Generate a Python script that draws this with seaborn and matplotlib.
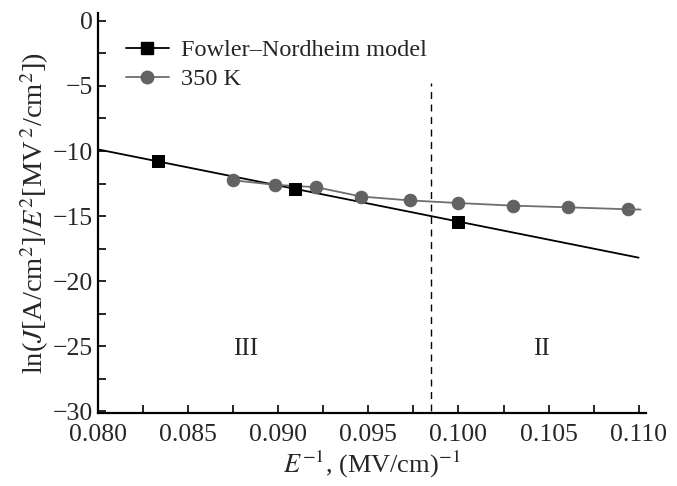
import matplotlib
matplotlib.use("Agg")
import matplotlib.pyplot as plt
from matplotlib.lines import Line2D
from matplotlib.ticker import MultipleLocator
import seaborn as sns

sns.set_style("ticks")
plt.rcParams['font.family'] = ['Liberation Serif', 'DejaVu Serif']
plt.rcParams['mathtext.fontset'] = 'stix'

# Fowler-Nordheim model: fit line and the three model points
fn_line_x = [0.080, 0.110]
fn_line_y = [-9.88, -18.2]
fn_x = [0.08333, 0.09091, 0.1000]
fn_y = [-10.8, -12.93, -15.43]

# measured data, 350 K
t350_x = [0.0875, 0.0898, 0.0921, 0.0946, 0.0973, 0.1000, 0.1030, 0.1061, 0.1094]
t350_y = [-12.25, -12.6, -12.78, -13.5, -13.8, -14.0, -14.2, -14.33, -14.48]
t350_tail_x = [0.1094, 0.1101]
t350_tail_y = [-14.48, -14.5]

boundary_x = 0.0985
region_labels = ["III", "II"]
region_x = [0.0882, 0.1046]
region_y = -25.2

black = "#000000"
grey_pt = "#626262"
grey_ln = "#6e6e6e"

fig = plt.figure(figsize=(6.77, 4.86), dpi=100)
ax = fig.add_axes([0.145, 0.150, 0.809, 0.823])

sns.lineplot(x=fn_line_x, y=fn_line_y, ax=ax, color=black, lw=1.3, zorder=2)
sns.scatterplot(x=fn_x, y=fn_y, ax=ax, marker="s", s=80, color=black,
                edgecolor=black, zorder=4)
sns.lineplot(x=t350_x, y=t350_y, ax=ax, color=grey_ln, lw=1.3, marker="o",
             markersize=9, markerfacecolor=grey_pt, markeredgecolor=grey_pt, zorder=3)
sns.lineplot(x=t350_tail_x, y=t350_tail_y, ax=ax, color=grey_ln, lw=1.3, zorder=3)

ax.plot([boundary_x, boundary_x], [-30, -4.8], color=black, lw=1.0,
        ls=(0, (5, 4)), zorder=1)

for lab, x in zip(region_labels, region_x):
    ax.text(x, region_y, lab, fontsize=18, ha="center", va="center")

ax.set_xlim(0.080, 0.1104)
ax.set_ylim(-30.15, 0.6)
ax.xaxis.set_major_locator(MultipleLocator(0.005))
ax.xaxis.set_minor_locator(MultipleLocator(0.0025))
ax.yaxis.set_major_locator(MultipleLocator(5))
ax.yaxis.set_minor_locator(MultipleLocator(2.5))
ax.xaxis.set_major_formatter(matplotlib.ticker.FormatStrFormatter("%.3f"))
ax.yaxis.set_major_formatter(matplotlib.ticker.FuncFormatter(
    lambda v, p: f"{int(v)}".replace("-", "\u2212")))
ax.tick_params(axis="both", which="both", direction="in", length=6,
               width=1.2, labelsize=18.5, color=black)
ax.tick_params(axis="x", pad=8)
ax.tick_params(axis="y", pad=4)
for s in ["left", "bottom"]:
    ax.spines[s].set_linewidth(1.6)
    ax.spines[s].set_color(black)
sns.despine(ax=ax)

ax.set_xlabel(r"$E^{-1}$, (MV/cm)$^{-1}$", fontsize=19, labelpad=2)
ax.set_ylabel(r"ln($J$[A/cm$^2$]/$E^2$[MV$\,^2$/cm$^2$])", fontsize=20.5,
              labelpad=1)

handles = [
    Line2D([], [], color=black, lw=1.3, marker="s", markersize=8),
    Line2D([], [], color=grey_ln, lw=1.3, marker="o", markersize=9,
           markerfacecolor=grey_pt, markeredgecolor=grey_pt),
]
ax.legend(handles, ["Fowler\u2013Nordheim model", "350 K"], loc="upper left",
          bbox_to_anchor=(0.01, 0.99), frameon=False, fontsize=17.5,
          handlelength=1.8, handletextpad=0.5, labelspacing=0.3)

fig.savefig("out.png", dpi=100)
